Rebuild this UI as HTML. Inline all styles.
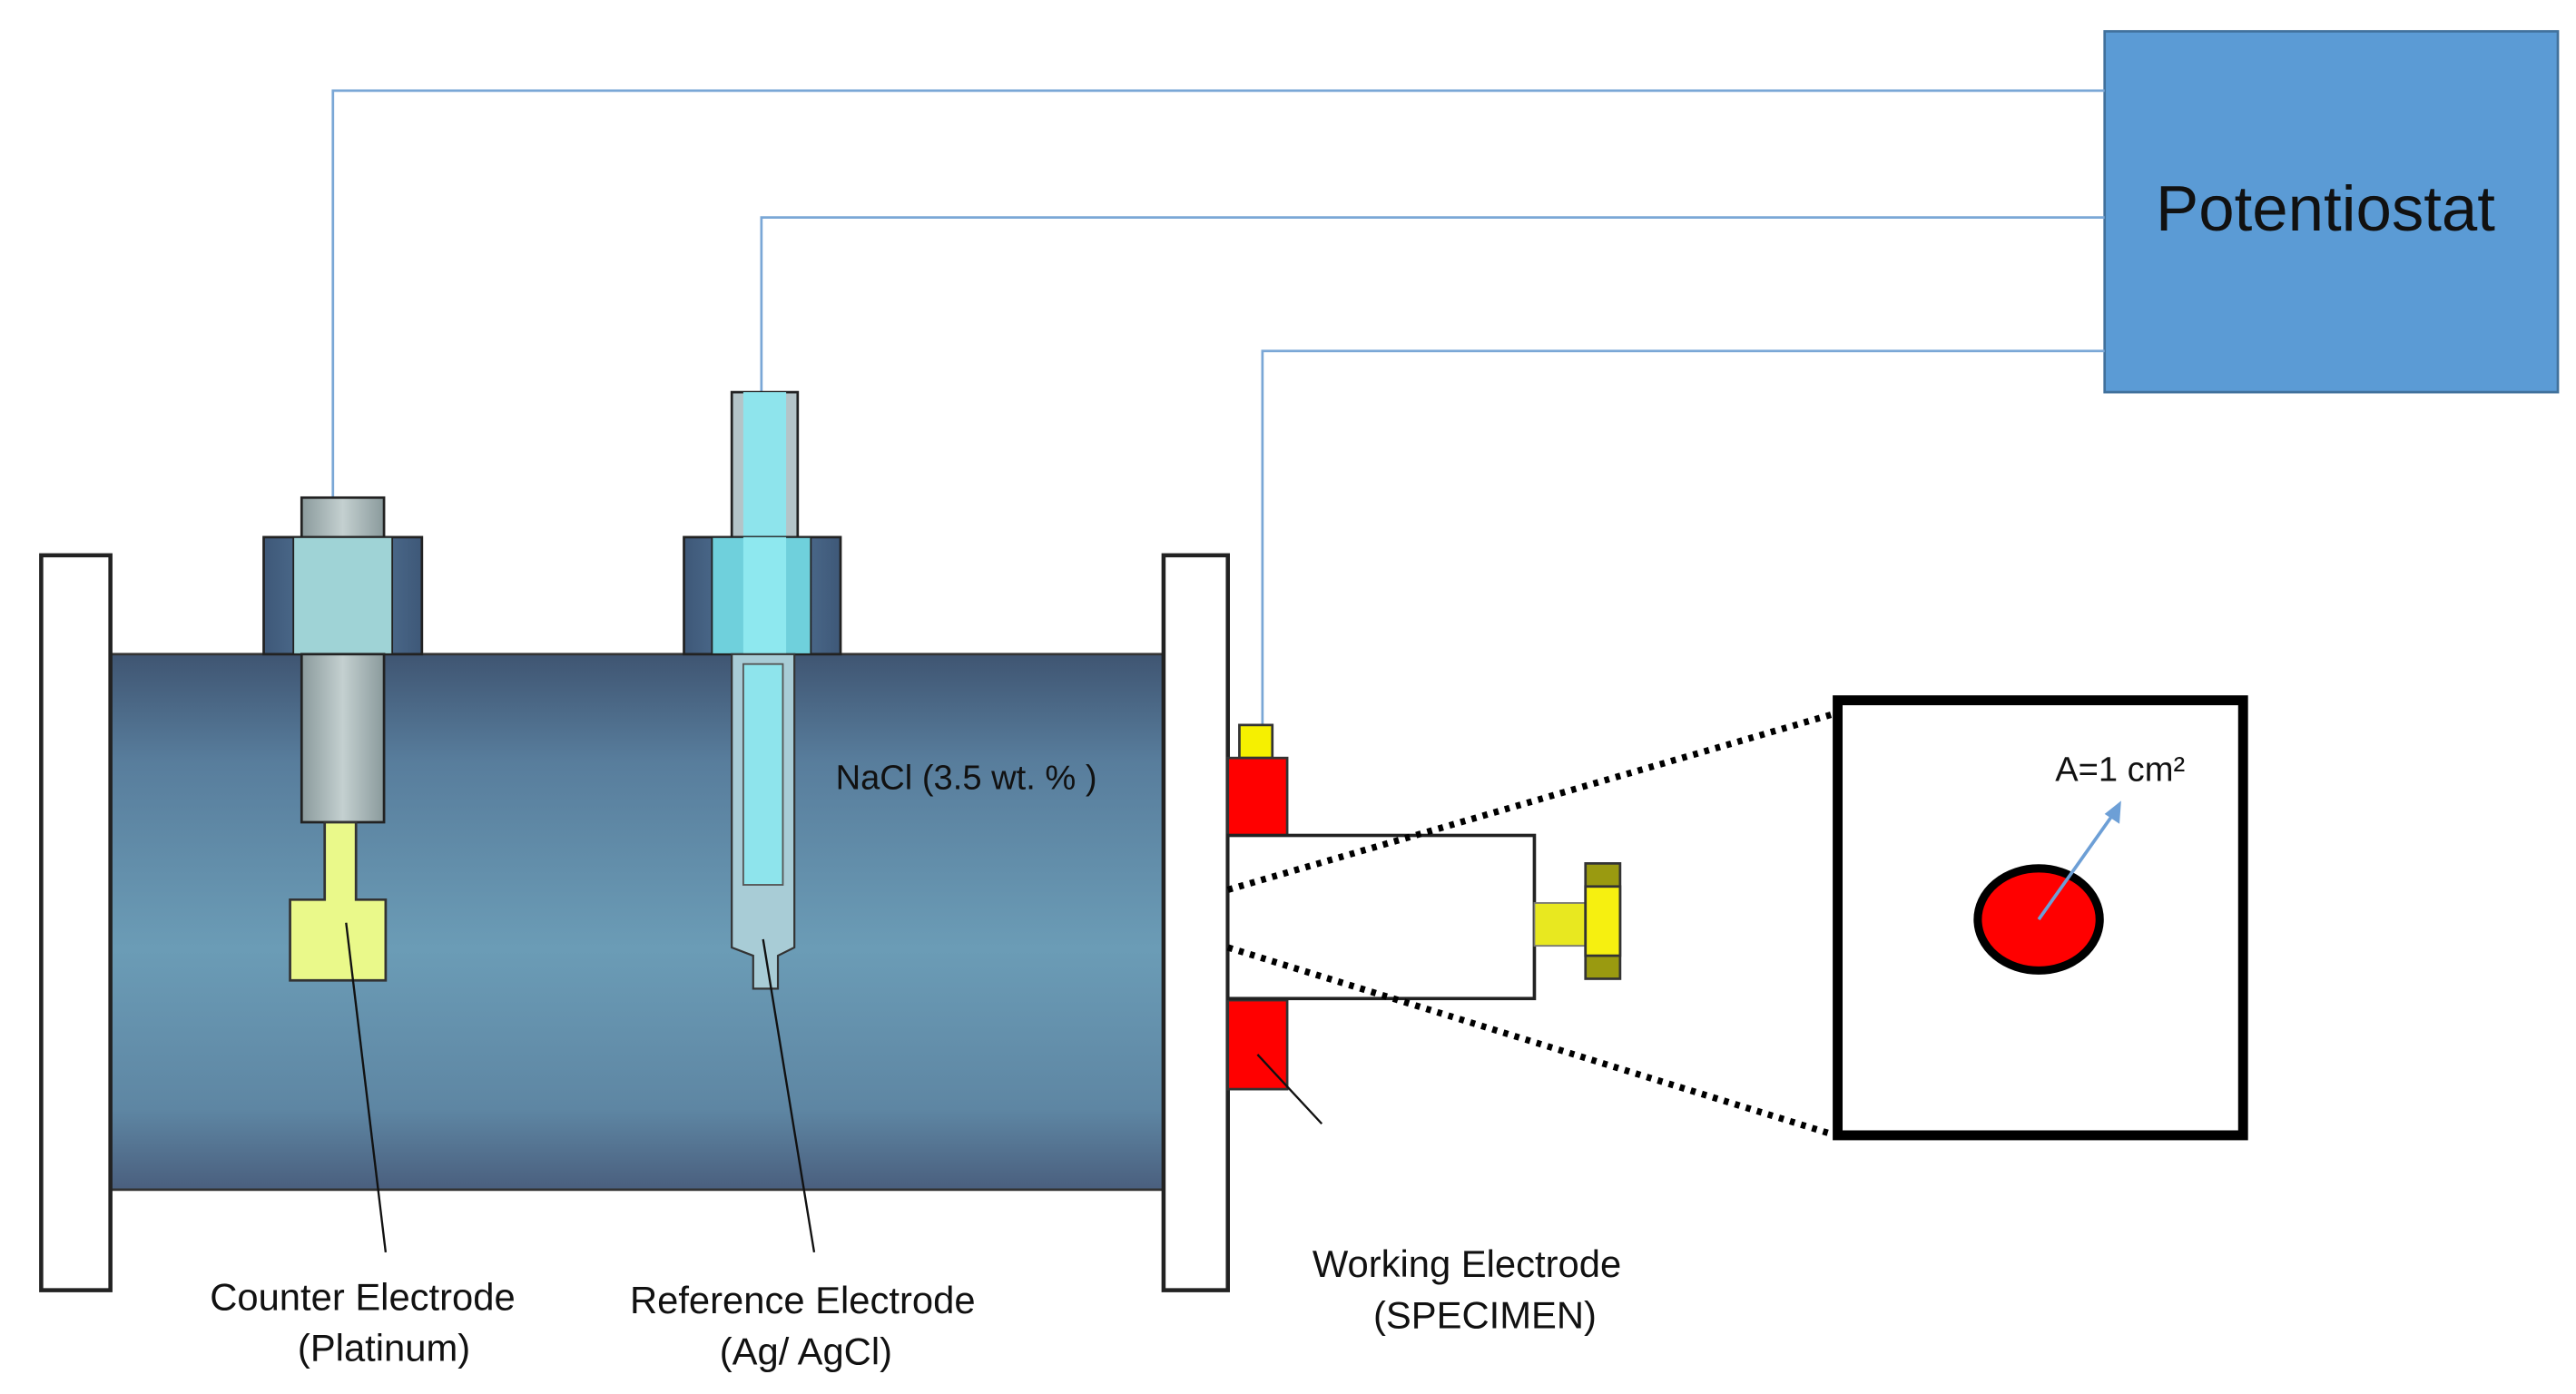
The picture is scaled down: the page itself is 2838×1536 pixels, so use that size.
<!DOCTYPE html>
<html><head><meta charset="utf-8"><style>html,body{margin:0;padding:0;background:#fff}svg{display:block}</style></head>
<body>
<svg width="2838" height="1536" viewBox="0 0 1563 846" preserveAspectRatio="none" xmlns="http://www.w3.org/2000/svg" font-family="Liberation Sans, sans-serif">
<defs>
<linearGradient id="tube" x1="0" y1="0" x2="0" y2="1">
<stop offset="0" stop-color="#3f5572"/><stop offset="0.2" stop-color="#587d9c"/><stop offset="0.55" stop-color="#6b9cb6"/><stop offset="0.85" stop-color="#5e86a3"/><stop offset="1" stop-color="#4a5f7e"/></linearGradient>
<linearGradient id="nut" x1="0" y1="0" x2="1" y2="0">
<stop offset="0" stop-color="#3e5878"/><stop offset="0.5" stop-color="#5a7da0"/><stop offset="1" stop-color="#3e5878"/></linearGradient>
<linearGradient id="gray" x1="0" y1="0" x2="1" y2="0">
<stop offset="0" stop-color="#8a9a9c"/><stop offset="0.5" stop-color="#c4d0d0"/><stop offset="1" stop-color="#8a9a9c"/></linearGradient>
</defs>
<rect x="1277" y="19" width="275" height="219" fill="#5b9bd5" stroke="#41719c" stroke-width="1.5"/>
<text x="1411" y="140" font-size="39" text-anchor="middle" fill="#111">Potentiostat</text>
<g fill="none" stroke="#7aa7d6" stroke-width="1.5">
<polyline points="1277,55 202,55 202,302"/>
<polyline points="1277,132 462,132 462,240"/>
<polyline points="1277,213 766,213 766,452"/>
</g>
<rect x="67" y="397" width="639" height="325" fill="url(#tube)" stroke="#333" stroke-width="1.5"/>
<rect x="25" y="337" width="42" height="446" fill="#fff" stroke="#222" stroke-width="2.5"/>
<rect x="706" y="337" width="39" height="446" fill="#fff" stroke="#222" stroke-width="2.5"/>
<rect x="183" y="302" width="50" height="26" fill="url(#gray)" stroke="#222" stroke-width="1.5"/>
<rect x="160" y="326" width="96" height="71" fill="url(#nut)" stroke="#222" stroke-width="1.5"/>
<rect x="178" y="326" width="60" height="71" fill="#9fd3d6" stroke="#222" stroke-width="1"/>
<rect x="183" y="397" width="50" height="102" fill="url(#gray)" stroke="#222" stroke-width="1.5"/>
<polygon points="197,499 216,499 216,546 234,546 234,595 176,595 176,546 197,546" fill="#eaf98a" stroke="#333" stroke-width="1.5"/>
<rect x="444" y="238" width="40" height="90" fill="#b4c4c8" stroke="#222" stroke-width="1.5"/>
<rect x="451" y="238" width="26" height="90" fill="#8ee4ec"/>
<rect x="415" y="326" width="95" height="71" fill="url(#nut)" stroke="#222" stroke-width="1.5"/>
<rect x="432" y="326" width="60" height="71" fill="#6fd0dc" stroke="#222" stroke-width="1"/>
<rect x="451" y="326" width="26" height="71" fill="#8ee8ef"/>
<polygon points="444,397 482,397 482,575 472,580 472,600 457,600 457,580 444,575" fill="#a8ccd6" stroke="#333" stroke-width="1.2"/>
<rect x="451" y="403" width="24" height="134" fill="#8ee4ec" stroke="#555" stroke-width="1"/>
<text x="507" y="479" font-size="21" fill="#111">NaCl (3.5 wt. % )</text>
<rect x="752" y="440" width="20" height="20" fill="#f6f000" stroke="#333" stroke-width="1.5"/>
<rect x="745" y="460" width="36" height="47" fill="#f00" stroke="#333" stroke-width="1.5"/>
<rect x="745" y="607" width="36" height="54" fill="#f00" stroke="#333" stroke-width="1.5"/>
<rect x="745" y="507" width="186" height="99" fill="#fff" stroke="#222" stroke-width="2"/>
<rect x="931" y="548" width="31" height="26" fill="#e8e820" stroke="#777" stroke-width="1"/>
<rect x="962" y="524" width="21" height="70" fill="#9a9a10" stroke="#333" stroke-width="1.5"/>
<rect x="962" y="538" width="21" height="42" fill="#f6f010" stroke="#333" stroke-width="1.5"/>
<g stroke="#000" stroke-width="4" stroke-dasharray="3,4">
<line x1="745" y1="540" x2="1117" y2="432"/>
<line x1="745" y1="575" x2="1117" y2="690"/>
</g>
<rect x="1115" y="425" width="246" height="264" fill="#fff" stroke="#000" stroke-width="6"/>
<ellipse cx="1237" cy="558" rx="37" ry="31" fill="#f00" stroke="#000" stroke-width="5"/>
<line x1="1237" y1="558" x2="1283" y2="493" stroke="#6d9fd6" stroke-width="2"/>
<polygon points="1287,486 1286,500 1277,494" fill="#6d9fd6"/>
<text x="1247" y="474" font-size="21" fill="#111">A=1 cm²</text>
<g stroke="#111" stroke-width="1.3">
<line x1="210" y1="560" x2="234" y2="760"/>
<line x1="463" y1="570" x2="494" y2="760"/>
<line x1="763" y1="640" x2="802" y2="682"/>
</g>
<g font-size="23" fill="#111" text-anchor="middle">
<text x="220" y="795">Counter Electrode</text>
<text x="233" y="826">(Platinum)</text>
<text x="487" y="797">Reference Electrode</text>
<text x="489" y="828">(Ag/ AgCl)</text>
<text x="890" y="775">Working Electrode</text>
<text x="901" y="806">(SPECIMEN)</text>
</g>
</svg>
</body></html>
